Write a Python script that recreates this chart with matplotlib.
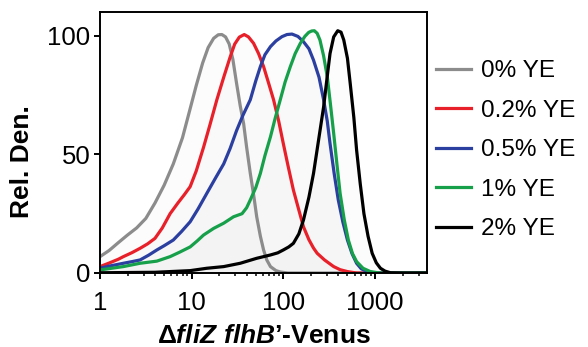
import matplotlib
matplotlib.use('Agg')
import numpy as np
import matplotlib.pyplot as plt
from matplotlib.ticker import LogLocator, NullFormatter, FixedLocator

plt.rcParams['font.family'] = ['Liberation Sans', 'DejaVu Sans']
plt.rcParams['mathtext.fontset'] = 'custom'
plt.rcParams['mathtext.it'] = 'Liberation Sans:bold:italic'

labels = ['0% YE', '0.2% YE', '0.5% YE', '1% YE', '2% YE']
colors = ['#8c8c8c', '#e8202a', '#2b3fa0', '#17a04a', '#000000']

# readings: log10(fluorescence) and relative density
lx_0 = [0, 0.1, 0.2, 0.3, 0.4, 0.5, 0.6, 0.7, 0.8, 0.9, 0.98, 1.05, 1.12,
        1.18, 1.24, 1.29, 1.33, 1.37, 1.41, 1.45, 1.49, 1.53, 1.567, 1.6,
        1.64, 1.68, 1.71, 1.75, 1.785, 1.82, 1.86, 1.92, 1.97, 2.05, 3.6]
y_0 = [6.9, 9.5, 12.8, 16, 19, 23, 29.5, 37, 46, 57, 68.7, 79, 88.5,
       95, 98.9, 100.4, 100.5, 99.5, 96.5, 90, 80, 70.5, 63, 53,
       42, 32, 23.7, 15.5, 9.7, 5.5, 2.7, 1.0, 0.4, 0, 0]

lx_1 = [0, 0.1, 0.2, 0.255, 0.35, 0.437, 0.52, 0.6, 0.68, 0.765, 0.85, 0.92,
        0.984, 1.05, 1.13, 1.2, 1.275, 1.35, 1.42, 1.47, 1.52, 1.574, 1.62,
        1.676, 1.73, 1.785, 1.84, 1.894, 1.95, 2.0, 2.05, 2.11, 2.17, 2.22,
        2.28, 2.33, 2.37, 2.45, 2.55, 2.62, 2.7, 2.8, 3.6]
y_1 = [2.7, 4.2, 5.8, 6.9, 8.6, 10.4, 12.3, 14.6, 19, 25, 29.5, 33,
       36.4, 43, 53, 62.5, 73, 82.5, 91, 96.5, 99.4, 100.5, 99.5,
       96.8, 92.5, 87, 80, 73, 64, 54.6, 45.5, 35, 26.5, 19.5,
       14, 10.5, 8.3, 5.5, 2.7, 1.4, 0.6, 0, 0]

lx_2 = [0, 0.1, 0.255, 0.35, 0.437, 0.53, 0.62, 0.7, 0.8, 0.89, 0.984, 1.07,
        1.166, 1.26, 1.35, 1.42, 1.49, 1.56, 1.64, 1.7, 1.75, 1.8, 1.86,
        1.92, 1.985, 2.04, 2.095, 2.16, 2.22, 2.28, 2.33, 2.39, 2.44, 2.48,
        2.51, 2.555, 2.6, 2.65, 2.7, 2.75, 2.8, 2.85, 2.91, 3.0, 3.6]
y_2 = [2.0, 2.9, 4.1, 4.8, 5.5, 7.5, 9.7, 11.5, 13.9, 17.5, 21.6, 27,
       33.6, 40, 46, 52.5, 60, 66.5, 73, 81, 87, 92, 95.4,
       97.8, 99.6, 100.5, 100.7, 99.7, 97.5, 94.5, 89.7, 82.5, 73, 64,
       54.6, 42, 30.8, 21.5, 13.9, 8.2, 4.1, 1.8, 0.6, 0, 0]

lx_3 = [0, 0.255, 0.437, 0.62, 0.765, 0.87, 0.984, 1.06, 1.13, 1.24, 1.35,
        1.457, 1.55, 1.6, 1.64, 1.7, 1.75, 1.8, 1.86, 1.91, 1.967, 2.02,
        2.077, 2.13, 2.186, 2.235, 2.277, 2.31, 2.339, 2.37, 2.4, 2.44, 2.48,
        2.515, 2.55, 2.585, 2.62, 2.665, 2.71, 2.755, 2.8, 2.87, 2.95, 3.05,
        3.6]
y_3 = [1.3, 2.7, 4.1, 5.0, 6.9, 8.8, 11, 13.5, 16, 18.8, 21,
       23.7, 25, 27.5, 30.8, 36, 42, 49.5, 57.4, 65, 73, 80.5,
       87, 92.5, 96.8, 99.7, 101.4, 102, 102.1, 101, 98.2, 91.5, 82.7,
       71, 58.8, 46, 33.6, 22.5, 13.9, 8.2, 4.8, 2.0, 0.6, 0,
       0]

lx_4 = [0, 0.6, 0.984, 1.166, 1.35, 1.53, 1.71, 1.86, 1.94, 2.0, 2.06, 2.11,
        2.17, 2.22, 2.28, 2.33, 2.385, 2.44, 2.48, 2.51, 2.55, 2.594, 2.63,
        2.66, 2.7, 2.73, 2.77, 2.8, 2.84, 2.88, 2.925, 2.97, 3.015, 3.06,
        3.11, 3.17, 3.3, 3.6]
y_4 = [0.1, 0.3, 1.0, 2.0, 2.7, 4.1, 6.2, 7.6, 8.5, 9.7, 11, 12.5,
       16.5, 22.3, 32, 42, 56, 70, 83, 92.5, 99.5, 102.1, 101.5,
       98.2, 90.5, 80, 65.5, 51.8, 37.5, 25, 15.5, 8.3, 4.3, 2.0,
       0.8, 0.1, 0, 0]

series = [(lx_0, y_0), (lx_1, y_1), (lx_2, y_2), (lx_3, y_3), (lx_4, y_4)]

fig = plt.figure(figsize=(5.88, 3.47), dpi=100)
ax = fig.add_axes([100 / 588, 74 / 347, 327 / 588, 261 / 347])

for (lx, ys), c, lab in zip(series, colors, labels):
    xs = 10 ** np.array(lx)
    ax.fill_between(xs, ys, 0, color='#000000', alpha=0.012, linewidth=0)
    ax.plot(xs, ys, color=c, lw=2.3, label=lab, solid_joinstyle='round')

ax.set_xscale('log')
ax.set_xlim(1, 3700)
ax.set_ylim(0, 110)
ax.xaxis.set_major_locator(FixedLocator([1, 10, 100, 1000]))
ax.set_xticklabels(['1', '10', '100', '1000'])
ax.xaxis.set_minor_locator(LogLocator(base=10, subs=range(2, 10)))
ax.xaxis.set_minor_formatter(NullFormatter())
ax.set_yticks([0, 50, 100])

for s in ax.spines.values():
    s.set_linewidth(1.4)
ax.tick_params(axis='both', which='major', direction='out', length=4, width=1.4,
               labelsize=18.5)
ax.tick_params(axis='x', which='major', pad=9)
ax.tick_params(axis='y', which='major', pad=3)
ax.tick_params(axis='x', which='minor', direction='out', length=2.5, width=1.1)

fig.text(22 / 588, 1 - 162 / 347, 'Rel. Den.', rotation=90, ha='center',
         va='center', fontsize=19, fontweight='bold')
fig.text(264 / 588, 1 - 336 / 347, 'Δ$\\mathit{fliZ\\ flhB}$’-Venus',
         ha='center', va='center', fontsize=19, fontweight='bold')

ax.legend(loc='upper left', bbox_to_anchor=(436 / 588, 1 - 60 / 347),
          bbox_transform=fig.transFigure, frameon=False, fontsize=17.5,
          handlelength=1.45, handletextpad=0.42, labelspacing=0.72,
          borderpad=0, borderaxespad=0)

fig.savefig('out.png', dpi=100)
